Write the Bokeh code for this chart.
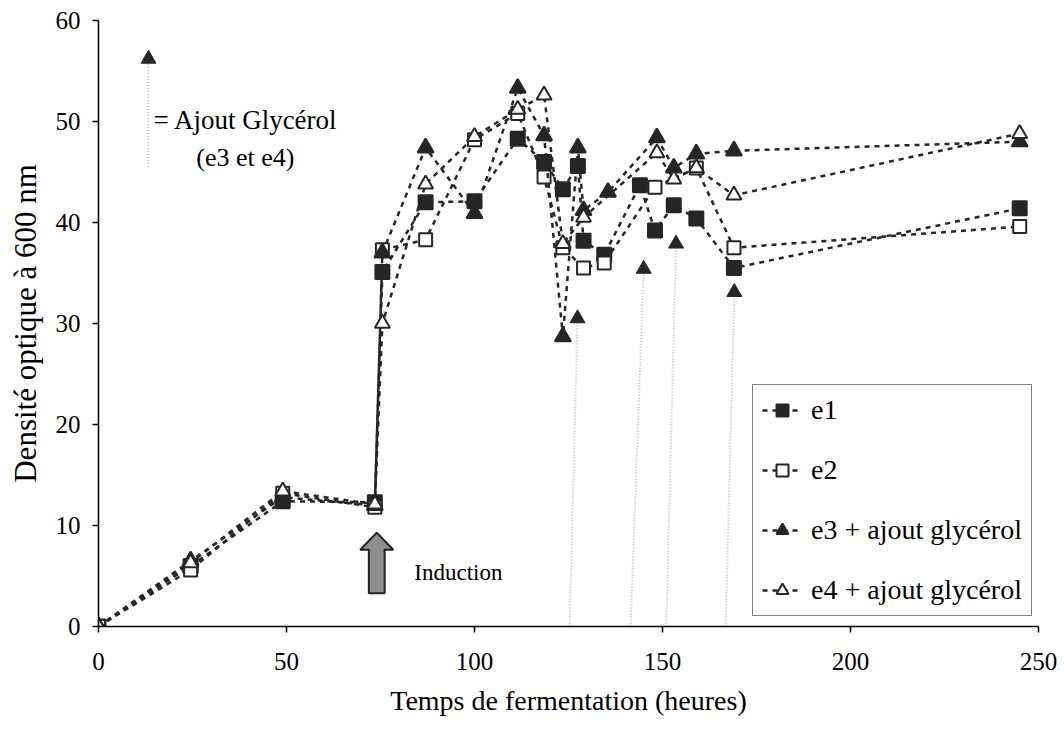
from bokeh.plotting import figure
from bokeh.models import Range1d, Legend, LegendItem, Label, FixedTicker
from bokeh.embed import file_html
from bokeh.resources import INLINE

# ---- data ----
e1_t = [0, 24.5, 49, 73.5, 75.5, 87, 100, 111.5, 118.5, 123.5, 127.5, 129, 134.5, 144, 148, 153, 159, 169, 245]
e1_v = [0, 6.0, 12.4, 12.3, 35.1, 42.0, 42.1, 48.3, 46.0, 43.3, 45.6, 38.2, 36.8, 43.7, 39.2, 41.7, 40.4, 35.5, 41.4]

e2_t = [0, 24.5, 49, 73.5, 75.5, 87, 100, 111.5, 118.5, 123.5, 129, 134.5, 148, 159, 169, 245]
e2_v = [0, 5.6, 13.2, 11.8, 37.3, 38.3, 48.2, 50.8, 44.5, 37.5, 35.5, 36.0, 43.5, 45.4, 37.5, 39.6]

e3_t = [0, 24.5, 49, 73.5, 75.5, 87, 100, 111.5, 118.5, 123.5, 127.5, 129, 135.5, 148.5, 153, 159, 169, 245]
e3_v = [0, 6.5, 12.8, 12.0, 37.0, 47.4, 40.9, 53.3, 48.6, 28.7, 47.4, 41.2, 43.0, 48.4, 45.4, 46.8, 47.1, 48.0]

e4_t = [0, 24.5, 49, 73.5, 75.5, 87, 100, 111.5, 118.5, 123.5, 129, 148.5, 153, 159, 169, 245]
e4_v = [0, 6.3, 13.4, 12.1, 30.0, 43.8, 48.5, 51.2, 52.6, 37.9, 40.5, 46.9, 44.3, 45.4, 42.7, 48.8]

labels = ["e1", "e2", "e3 + ajout glycérol", "e4 + ajout glycérol"]

# glycerol additions (arrows): foot time, tip time, tip value
glyc_foot_t = [125.3, 141.5, 151.0, 166.8]
glyc_tip_t = [127.4, 145.0, 153.6, 169.1]
glyc_tip_v = [30.5, 35.4, 37.9, 33.1]

# key arrow (top left)
key_t = [13.3]
key_top = [56.2]
key_bottom = [45.5]

# induction arrow (time, tip, head base, tail)
ind_t = 74.0
ind_tip, ind_base, ind_tail = 9.3, 7.6, 3.3
ind_head_w, ind_shaft_w = 4.4, 2.1

x_ticks = [0, 50, 100, 150, 200, 250]
y_ticks = [0, 10, 20, 30, 40, 50, 60]

SERIF = "Liberation Serif"
INK = "#262626"

p = figure(width=1064, height=743, output_backend="svg", toolbar_location=None,
           x_range=Range1d(0, 250), y_range=Range1d(0, 60),
           min_border_left=98, min_border_right=26, min_border_top=20, min_border_bottom=117)
p.outline_line_color = None
p.xgrid.visible = False
p.ygrid.visible = False
p.background_fill_color = "white"
p.border_fill_color = "white"

for ax in (p.xaxis[0], p.yaxis[0]):
    ax.axis_line_color = "black"
    ax.axis_line_width = 1.5
    ax.major_tick_line_color = "black"
    ax.major_tick_line_width = 1.5
    ax.major_tick_out = 6
    ax.major_tick_in = 0
    ax.minor_tick_line_color = None
    ax.major_label_text_font = SERIF
    ax.major_label_text_font_size = "25px"
    ax.major_label_text_color = "black"
    ax.axis_label_text_font = SERIF
    ax.axis_label_text_font_style = "normal"
    ax.axis_label_text_color = "black"

p.xaxis[0].ticker = FixedTicker(ticks=x_ticks)
p.yaxis[0].ticker = FixedTicker(ticks=y_ticks)
p.xaxis[0].major_label_standoff = 20
p.yaxis[0].major_label_standoff = 12
p.xaxis[0].axis_label = "Temps de fermentation (heures)"
p.xaxis[0].axis_label_text_font_size = "28px"
p.xaxis[0].axis_label_standoff = 12
p.yaxis[0].axis_label = "Densité optique à 600 nm"
p.yaxis[0].axis_label_text_font_size = "31px"
p.yaxis[0].axis_label_standoff = 10

# glycerol arrows (gray dotted shafts with black heads)
p.segment(x0=glyc_foot_t, y0=[0] * len(glyc_foot_t), x1=glyc_tip_t, y1=glyc_tip_v,
          line_color="#bdbdbd", line_width=2, line_dash="1 2")
p.scatter(glyc_tip_t, glyc_tip_v, marker="triangle", size=15, fill_color=INK, line_color=INK)

# key arrow
p.segment(x0=key_t, y0=key_bottom, x1=key_t, y1=key_top, line_color="#c4c4c4", line_width=2, line_dash="1 2")
p.scatter(key_t, key_top, marker="triangle", size=15, fill_color=INK, line_color=INK)
p.add_layout(Label(x=14.6, y=50.1, text="= Ajout Glycérol", text_font=SERIF, text_font_size="27px",
                   text_color="black", text_baseline="middle", text_align="left"))
p.add_layout(Label(x=26.0, y=46.4, text="(e3 et e4)", text_font=SERIF, text_font_size="26px",
                   text_color="black", text_baseline="middle", text_align="left"))

# induction arrow
hx = [ind_t, ind_t + ind_head_w, ind_t + ind_shaft_w, ind_t + ind_shaft_w,
      ind_t - ind_shaft_w, ind_t - ind_shaft_w, ind_t - ind_head_w]
hy = [ind_tip, ind_base, ind_base, ind_tail, ind_tail, ind_base, ind_base]
p.patch(hx, hy, fill_color="#8e8e8e", line_color="#222222", line_width=2)
p.add_layout(Label(x=84.0, y=5.3, text="Induction", text_font=SERIF, text_font_size="23px",
                   text_color="black", text_baseline="middle", text_align="left"))

series = [
    (e1_t, e1_v, "square", INK, 14),
    (e2_t, e2_v, "square", "white", 13),
    (e3_t, e3_v, "triangle", INK, 16),
    (e4_t, e4_v, "triangle", "white", 15),
]
items = []
for (t, v, mk, fill, sz), lab in zip(series, labels):
    ln = p.line(t, v, line_color=INK, line_width=2.5, line_dash="5 5")
    sc = p.scatter(t, v, marker=mk, size=sz, fill_color=fill, line_color=INK, line_width=2)
    items.append(LegendItem(label=lab, renderers=[ln, sc]))

legend = Legend(items=items, location=(654, 10), orientation="vertical",
                label_text_font=SERIF, label_text_font_size="28px", label_text_color="black",
                glyph_width=40, glyph_height=30, label_height=30, spacing=28, padding=9,
                margin=0, label_standoff=9,
                border_line_color="black", border_line_width=1.5, background_fill_alpha=1)
p.add_layout(legend, "center")

open("out.html", "w").write(file_html(p, INLINE))
